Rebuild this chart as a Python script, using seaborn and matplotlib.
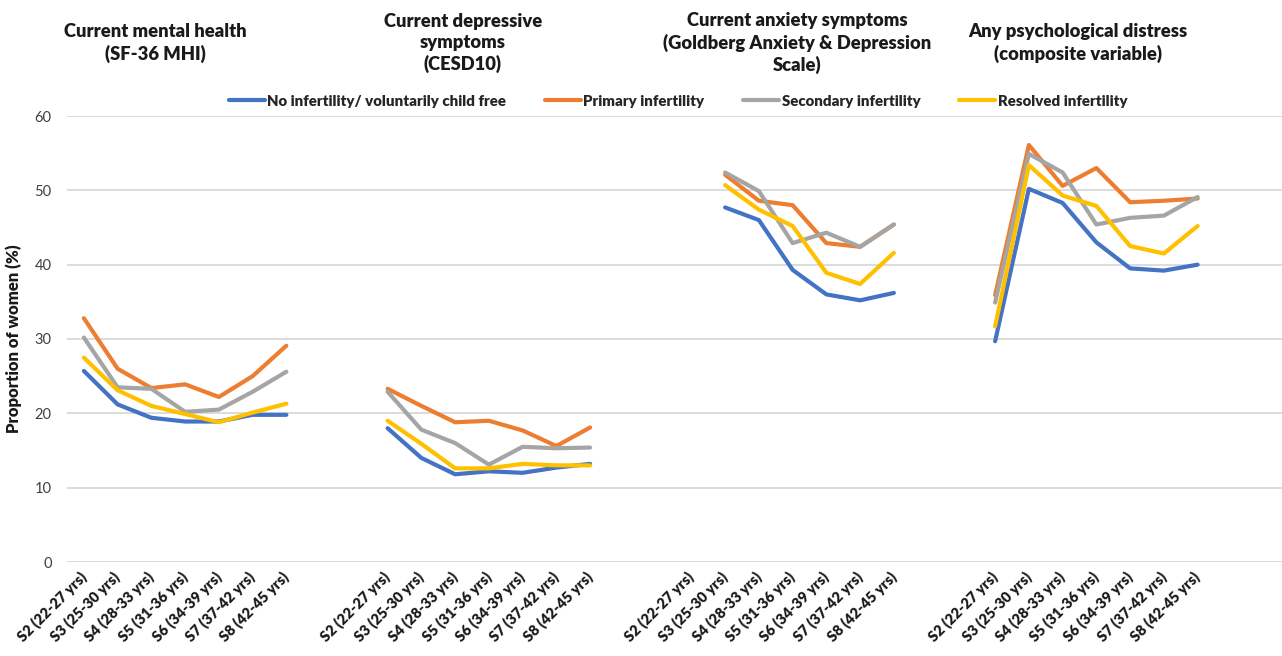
"""Psychological distress by infertility status across survey waves."""

import numpy as np
import pandas as pd
import matplotlib
matplotlib.use('Agg')
import matplotlib.pyplot as plt
import seaborn as sns


# Data (% of women)
WAVES = ['S2 (22-27 yrs)', 'S3 (25-30 yrs)', 'S4 (28-33 yrs)', 'S5 (31-36 yrs)',
         'S6 (34-39 yrs)', 'S7 (37-42 yrs)', 'S8 (42-45 yrs)']

MEASURES = [
    'Current mental health\n(SF-36 MHI)',
    'Current depressive\nsymptoms\n(CESD10)',
    'Current anxiety symptoms\n(Goldberg Anxiety & Depression\nScale)',
    'Any psychological distress\n(composite variable)',
]

SERIES = ['No infertility/ voluntarily child free', 'Primary infertility',
          'Secondary infertility', 'Resolved infertility']

NO_INFERTILITY = [
    [25.7, 21.2, 19.4, 18.9, 18.9, 19.8, 19.8],
    [18.0, 14.0, 11.8, 12.2, 12.0, 12.7, 13.2],
    [np.nan, 47.7, 46.0, 39.3, 36.0, 35.2, 36.2],
    [29.7, 50.2, 48.3, 43.0, 39.5, 39.2, 40.0],
]
PRIMARY = [
    [32.8, 26.0, 23.4, 23.9, 22.2, 25.0, 29.1],
    [23.3, 21.0, 18.8, 19.0, 17.7, 15.6, 18.1],
    [np.nan, 52.1, 48.6, 48.0, 42.9, 42.4, 45.4],
    [35.9, 56.1, 50.6, 53.0, 48.4, 48.6, 48.9],
]
SECONDARY = [
    [30.2, 23.5, 23.3, 20.2, 20.5, 22.9, 25.6],
    [22.9, 17.8, 16.0, 13.1, 15.5, 15.3, 15.4],
    [np.nan, 52.4, 49.9, 42.9, 44.3, 42.4, 45.4],
    [34.9, 54.9, 52.4, 45.4, 46.3, 46.6, 49.1],
]
RESOLVED = [
    [27.5, 23.1, 21.0, 19.9, 18.8, 20.1, 21.3],
    [19.0, 15.9, 12.6, 12.6, 13.2, 13.0, 13.0],
    [np.nan, 50.7, 47.4, 45.2, 38.9, 37.4, 41.6],
    [31.7, 53.4, 49.3, 47.9, 42.5, 41.5, 45.2],
]

COLORS = {
    SERIES[0]: '#4472C4',
    SERIES[1]: '#ED7D31',
    SERIES[2]: '#A5A5A5',
    SERIES[3]: '#FFC000',
}

GROUP_STEP = 9  # 7 waves + 2 empty categories between panels
FONT = ['Lato', 'DejaVu Sans']
BOLD = 800


def build_frame():
    rows = []
    for name, values in zip(SERIES, [NO_INFERTILITY, PRIMARY, SECONDARY, RESOLVED]):
        for g, measure_vals in enumerate(values):
            for i, v in enumerate(measure_vals):
                if np.isnan(v):
                    continue
                rows.append({'series': name, 'measure': g,
                             'pos': g * GROUP_STEP + i, 'value': v})
    return pd.DataFrame(rows)


sns.set_theme(style='white')
plt.rcParams['font.family'] = FONT

W, H = 1282, 656
fig = plt.figure(figsize=(W / 100, H / 100), dpi=100)
ax = fig.add_axes([67 / W, 94 / H, (W - 67) / W, (562 - 116) / H])

df = build_frame()
sns.lineplot(data=df, x='pos', y='value', hue='series', units='measure',
             estimator=None, hue_order=SERIES, palette=COLORS, linewidth=3,
             ax=ax, legend=True)

handles, labels = ax.get_legend_handles_labels()
ax.get_legend().remove()
fig.legend(handles, labels, loc='center', ncol=4, frameon=False,
           bbox_to_anchor=(678 / W, 1 - 101 / H),
           prop={'family': FONT, 'weight': BOLD, 'size': 10.8},
           handlelength=2.4, handletextpad=0.15, columnspacing=2.6)

ax.set_xlim(-0.5, 4 * GROUP_STEP - 0.5)
ax.set_ylim(0, 60)
ax.set_yticks(range(0, 61, 10))
ax.yaxis.grid(True, color='#D9D9D9', linewidth=1.3)
ax.xaxis.grid(False)
for s in ax.spines.values():
    s.set_visible(False)

tick_pos = [g * GROUP_STEP + i for g in range(len(MEASURES)) for i in range(len(WAVES))]
ax.set_xticks(tick_pos)
ax.set_xticklabels(WAVES * len(MEASURES), rotation=45, ha='right',
                   rotation_mode='anchor', va='center',
                   fontsize=10.5, fontweight=BOLD, color='#1a1a1a')
ax.tick_params(axis='x', length=0, pad=9)
ax.tick_params(axis='y', length=0, pad=11, labelsize=10.5, labelcolor='#404040')

ax.set_xlabel('')
ax.set_ylabel('Proportion of women (%)', fontsize=12, fontweight=BOLD,
              color='#1a1a1a', labelpad=9)

# Panel titles above each group
title_x = [155, 463, 797, 1078]
for x, title in zip(title_x, MEASURES):
    fig.text(x / W, 1 - 43 / H, title, ha='center', va='center',
             fontsize=13.2, fontweight=BOLD, color='#1a1a1a', linespacing=1.3)

fig.savefig('out.png', dpi=100)
